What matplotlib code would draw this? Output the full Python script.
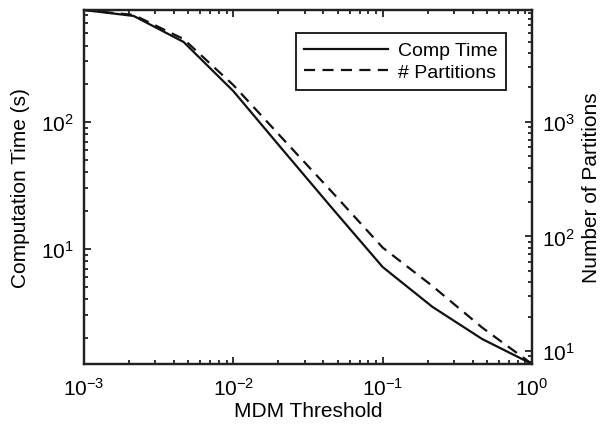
import matplotlib.pyplot as plt

plt.rcParams['font.family'] = ['Liberation Sans', 'DejaVu Sans']
plt.rcParams['mathtext.default'] = 'regular'

# Data
mdm_threshold = [0.001, 0.00215, 0.00464, 0.01, 0.0215, 0.0464, 0.1, 0.215, 0.464, 1.0]
comp_time = [762, 684, 427, 175, 60, 20.6, 7.2, 3.5, 1.95, 1.24]
n_partitions = [9500, 8600, 5300, 2100, 710, 240, 80, 37, 16, 7.7]

fig = plt.figure(figsize=(6.02, 4.27), dpi=100)
ax = fig.add_axes([84 / 602, 1 - 365 / 427, 448 / 602, 354 / 427])
ax2 = ax.twinx()

l1, = ax.plot(mdm_threshold, comp_time, color='#111111', lw=1.6, label='Comp Time')
l2, = ax2.plot(mdm_threshold, n_partitions, color='#111111', lw=1.6,
               linestyle=(0, (5, 3.3)), label='# Partitions')

ax.set_xscale('log')
ax.set_yscale('log')
ax2.set_yscale('log')
ax.set_xlim(min(mdm_threshold), max(mdm_threshold))
ax.set_ylim(min(comp_time), max(comp_time))
ax2.set_ylim(min(n_partitions), max(n_partitions))

ax.set_xlabel('MDM Threshold', fontsize=15, labelpad=2)
ax.set_ylabel('Computation Time (s)', fontsize=15, labelpad=8)
ax2.set_ylabel('Number of Partitions', fontsize=15, labelpad=5)

for a in (ax, ax2):
    for s in a.spines.values():
        s.set_linewidth(1.6)
        s.set_color('#222222')
ax.tick_params(which='both', direction='in', top=True, right=False, labelsize=15,
               width=1.3, color='#222222')
ax.tick_params(axis='x', which='both', pad=9)
ax.tick_params(axis='y', which='both', pad=7)
ax.tick_params(which='major', length=5)
ax.tick_params(which='minor', length=3)
ax2.tick_params(which='both', direction='in', labelsize=15, width=1.3, color='#222222',
                pad=7)
ax2.tick_params(which='major', length=5)
ax2.tick_params(which='minor', length=3)

leg = ax.legend(handles=[l1, l2], loc='upper right', bbox_to_anchor=(0.942, 0.935),
                borderaxespad=0, fontsize=14, handlelength=4.3, fancybox=False,
                framealpha=1, borderpad=0.45, labelspacing=0.22, handletextpad=0.5)
leg.get_frame().set_edgecolor('#222222')
leg.get_frame().set_linewidth(1.4)

fig.savefig('out.png', dpi=100)
